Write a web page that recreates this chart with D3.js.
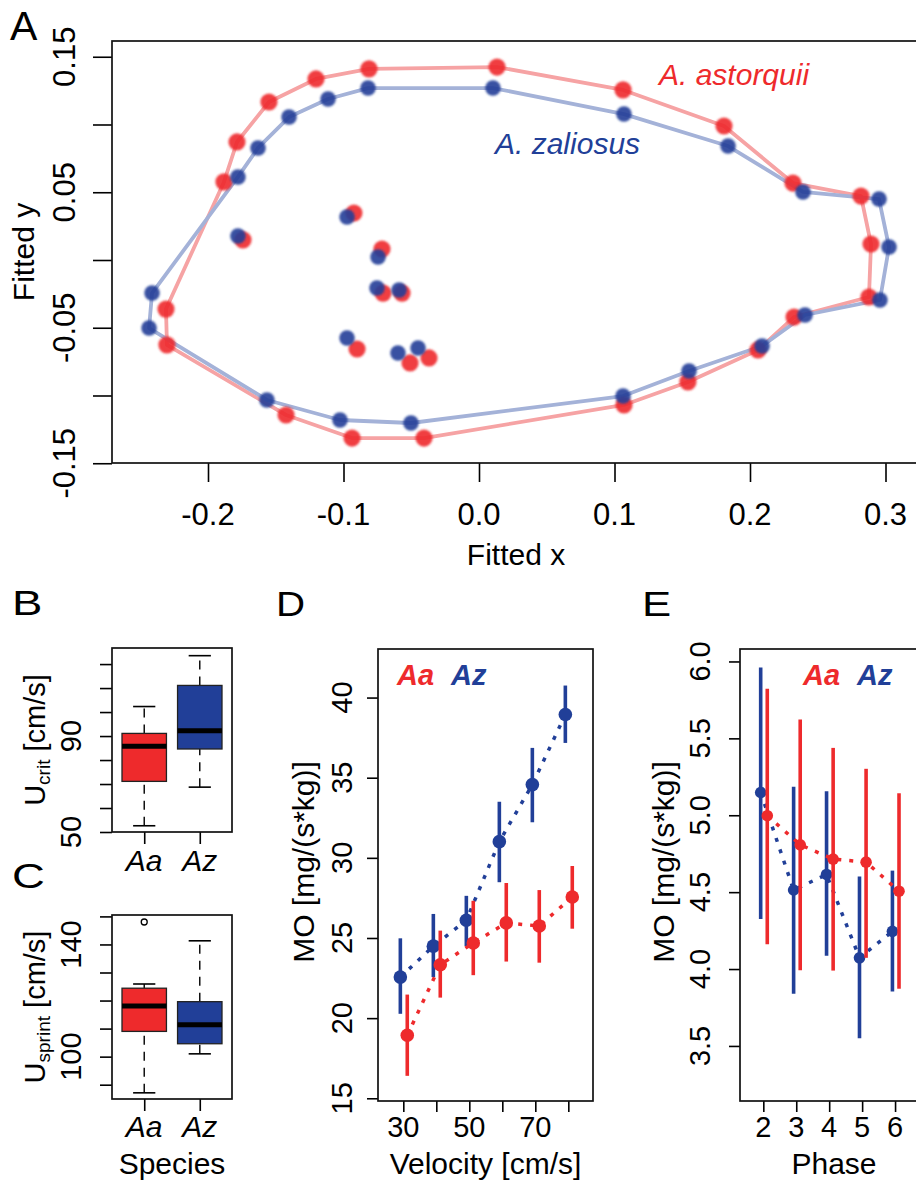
<!DOCTYPE html>
<html><head><meta charset="utf-8">
<script src="https://cdn.jsdelivr.net/npm/d3@7"></script>
<style>body{margin:0;background:#fff;overflow:hidden} svg text{font-family:"Liberation Sans",Arial,Helvetica,sans-serif}</style>
</head><body><svg id="c" width="916" height="1186"></svg>
<script>
// ---------- DATA ----------
// Panel A: Procrustes-fitted landmark coordinates
const shapeTicksX = [-0.2, -0.1, 0.0, 0.1, 0.2, 0.3];
const shapeTickLabelsX = ["-0.2", "-0.1", "0.0", "0.1", "0.2", "0.3"];
const shapeTicksY = [0.15, 0.10, 0.05, 0.00, -0.05, -0.10, -0.15];
const shapeTickLabelsY = ["0.15", "", "0.05", "", "-0.05", "", "-0.15"];
const astorquiiOutlineX = [0.0133, 0.1063, 0.1808, 0.2317, 0.2819, 0.2893, 0.2878, 0.2325, 0.2059, 0.1542, 0.1070, -0.0406, -0.0937, -0.1424, -0.2303, -0.2310, -0.1882, -0.1786, -0.1550, -0.1203, -0.0812];
const astorquiiOutlineY = [0.1424, 0.1255, 0.0989, 0.0568, 0.0472, 0.0118, -0.0273, -0.0421, -0.0664, -0.0900, -0.1070, -0.1314, -0.1314, -0.1144, -0.0627, -0.0362, 0.0576, 0.0871, 0.1166, 0.1336, 0.1410];
const zaliosusOutlineX = [0.0103, 0.1070, 0.1838, 0.2391, 0.2952, 0.3026, 0.2959, 0.2406, 0.2089, 0.1550, 0.1063, -0.0502, -0.1026, -0.1565, -0.2435, -0.2413, -0.1779, -0.1631, -0.1402, -0.1114, -0.0819];
const zaliosusOutlineY = [0.1269, 0.1077, 0.0841, 0.0502, 0.0450, 0.0096, -0.0295, -0.0406, -0.0635, -0.0819, -0.1004, -0.1203, -0.1181, -0.1033, -0.0502, -0.0244, 0.0613, 0.0827, 0.1055, 0.1188, 0.1269];
const astorquiiInnerX = [-0.0923, -0.1742, -0.0716, -0.0708, -0.0568, -0.0900, -0.0509, -0.0369];
const astorquiiInnerY = [0.0347, 0.0148, 0.0081, -0.0244, -0.0244, -0.0657, -0.0760, -0.0723];
const zaliosusInnerX = [-0.0974, -0.1779, -0.0745, -0.0753, -0.0590, -0.0974, -0.0598, -0.0450];
const zaliosusInnerY = [0.0317, 0.0177, 0.0022, -0.0207, -0.0221, -0.0576, -0.0686, -0.0649];
const speciesNames = ["A. astorquii", "A. zaliosus"];

// Panels B, C: boxplots (lower whisker, Q1, median, Q3, upper whisker)
const speciesCodes = ["Aa", "Az"];
const ucritTicks = [50, 60, 70, 80, 90, 100, 110, 120];
const ucritTickLabels = ["50", "", "", "", "90", "", "", ""];
const ucritAa = [52.6, 71.1, 85.7, 91.1, 102.3];
const ucritAz = [68.7, 84.6, 92.2, 111.1, 123.5];
const usprintTicks = [90, 100, 110, 120, 130, 140, 150];
const usprintTickLabels = ["", "100", "", "", "", "140", ""];
const usprintAa = [87.1, 109.0, 118.1, 124.4, 125.9];
const usprintAz = [101.0, 104.6, 111.4, 119.6, 141.3];
const usprintOutliersAa = [148.0];
const usprintOutliersAz = [];

// Panel D: MO2 vs velocity (mean, lower, upper)
const velocity = [30, 40, 50, 60, 70, 80];
const velocityTickLabels = ["30", "", "50", "", "70", ""];
const moTicksD = [15, 20, 25, 30, 35, 40];
const moVelAa = [18.93, 23.33, 24.69, 25.94, 25.75, 27.56];
const moVelAaLo = [16.40, 21.28, 22.68, 23.53, 23.46, 25.58];
const moVelAaHi = [21.47, 25.46, 27.32, 28.43, 27.99, 29.49];
const moVelAz = [22.56, 24.49, 26.11, 31.01, 34.57, 38.94];
const moVelAzLo = [20.27, 22.56, 24.49, 28.48, 32.22, 37.17];
const moVelAzHi = [24.98, 26.50, 27.63, 33.50, 36.86, 40.75];

// Panel E: MO2 vs phase
const phase = [2, 3, 4, 5, 6];
const moTicksE = [3.5, 4.0, 4.5, 5.0, 5.5, 6.0];
const moPhaseAa = [4.997, 4.808, 4.715, 4.695, 4.506];
const moPhaseAaLo = [4.162, 3.992, 3.990, 4.073, 3.872];
const moPhaseAaHi = [5.823, 5.622, 5.438, 5.302, 5.143];
const moPhaseAz = [5.148, 4.514, 4.615, 4.073, 4.245];
const moPhaseAzLo = [4.325, 3.839, 4.086, 3.550, 3.854];
const moPhaseAzHi = [5.961, 5.186, 5.156, 4.602, 4.640];

// ---------- STYLE ----------
const RED = "#ee2a2c", BLUE = "#213f98";
const RED_LINE = "#f6a3a4", BLUE_LINE = "#a4b2d8";
const svg = d3.select("#c");
svg.append("rect").attr("width", 916).attr("height", 1186).attr("fill", "#fff");
const defs = svg.append("defs");
defs.append("filter").attr("id", "soft").attr("x", "-50%").attr("y", "-50%").attr("width", "200%").attr("height", "200%")
  .append("feGaussianBlur").attr("stdDeviation", 0.9);

function styleAxis(g) {
  g.select(".domain").remove();
  g.selectAll(".tick line").attr("stroke", "#000").attr("stroke-width", 1.6);
}
function frame(b) {
  svg.append("rect").attr("x", b.l).attr("y", b.t).attr("width", b.r - b.l).attr("height", b.b - b.t)
    .attr("fill", "none").attr("stroke", "#111").attr("stroke-width", 1.7);
}
function vlabel(x, y, txt, size, extra) {
  const t = svg.append("text").attr("transform", `translate(${x},${y}) rotate(-90)`)
    .attr("text-anchor", "middle").attr("font-size", size).attr("fill", "#000").text(txt);
  if (extra) extra(t);
  return t;
}
function hlabel(x, y, txt, size) {
  return svg.append("text").attr("x", x).attr("y", y).attr("text-anchor", "middle")
    .attr("font-size", size).attr("fill", "#000").text(txt);
}
function panelLetter(x, y, txt, size, sx) {
  svg.append("text").attr("transform", `translate(${x},${y}) scale(${sx},1)`)
    .attr("font-size", size).attr("fill", "#000").text(txt);
}

// ---------- PANEL A ----------
const A = {l: 112, t: 41, r: 920, b: 463};
const xA = d3.scaleLinear().domain([-0.27085, 0.32546]).range([A.l, A.r]);
const yA = d3.scaleLinear().domain([-0.14982, 0.16162]).range([A.b, A.t]);
svg.append("g").attr("transform", `translate(0,${A.b})`)
  .call(d3.axisBottom(xA).tickValues(shapeTicksX).tickSize(19).tickSizeOuter(0).tickFormat("")).call(styleAxis);
svg.append("g").attr("transform", `translate(${A.l},0)`)
  .call(d3.axisLeft(yA).tickValues(shapeTicksY).tickSize(19).tickSizeOuter(0).tickFormat("")).call(styleAxis);
shapeTicksX.forEach((v, i) => hlabel(xA(v), 525, shapeTickLabelsX[i], 31));
shapeTicksY.forEach((v, i) => { if (shapeTickLabelsY[i]) vlabel(75, yA(v), shapeTickLabelsY[i], 31); });
hlabel((A.l + A.r) / 2, 565, "Fitted x", 30);
vlabel(34, (A.t + A.b) / 2, "Fitted y", 30);
panelLetter(10, 40, "A", 41, 1);

const lineA = d3.line().x(d => xA(d[0])).y(d => yA(d[1])).curve(d3.curveLinearClosed);
const astOut = d3.zip(astorquiiOutlineX, astorquiiOutlineY);
const zalOut = d3.zip(zaliosusOutlineX, zaliosusOutlineY);
svg.append("path").attr("d", lineA(astOut)).attr("fill", "none").attr("stroke", RED_LINE).attr("stroke-width", 3.8).attr("stroke-linejoin", "round");
svg.append("path").attr("d", lineA(zalOut)).attr("fill", "none").attr("stroke", BLUE_LINE).attr("stroke-width", 3.8).attr("stroke-linejoin", "round");
function dots(pts, col, r) {
  svg.append("g").attr("filter", "url(#soft)").selectAll("circle").data(pts).join("circle")
    .attr("cx", d => xA(d[0])).attr("cy", d => yA(d[1])).attr("r", r).attr("fill", col).attr("fill-opacity", 0.9);
}
dots(astOut.concat(d3.zip(astorquiiInnerX, astorquiiInnerY)), RED, 8.6);
dots(zalOut.concat(d3.zip(zaliosusInnerX, zaliosusInnerY)), BLUE, 7.8);
svg.append("text").attr("x", 659).attr("y", 85).attr("font-size", 30).attr("font-style", "italic").attr("fill", RED).text(speciesNames[0]);
svg.append("text").attr("x", 495).attr("y", 154).attr("font-size", 30).attr("font-style", "italic").attr("fill", BLUE).text(speciesNames[1]);
frame(A);

// ---------- PANELS B, C ----------
function boxPanel(b, dom, ticks, tickLabels, statsList, outliers, sub, xLabelY) {
  const x = d3.scaleLinear().domain([0.42, 2.58]).range([b.l, b.r]);
  const y = d3.scaleLinear().domain(dom).range([b.b, b.t]);
  svg.append("g").attr("transform", `translate(0,${b.b})`)
    .call(d3.axisBottom(x).tickValues([1, 2]).tickSize(12).tickSizeOuter(0).tickFormat("")).call(styleAxis);
  svg.append("g").attr("transform", `translate(${b.l},0)`)
    .call(d3.axisLeft(y).tickValues(ticks).tickSize(12).tickSizeOuter(0).tickFormat("")).call(styleAxis);
  ticks.forEach((v, i) => { if (tickLabels[i]) vlabel(81, y(v), tickLabels[i], 29); });
  const colors = [RED, BLUE];
  statsList.forEach((s, i) => {
    const cx = x(i + 1), hw = x(1.4) - x(1), cw = x(1.2) - x(1);
    const g = svg.append("g");
    g.append("line").attr("x1", cx).attr("x2", cx).attr("y1", y(s[0])).attr("y2", y(s[1])).attr("stroke", "#000").attr("stroke-width", 1.4).attr("stroke-dasharray", "9 7");
    g.append("line").attr("x1", cx).attr("x2", cx).attr("y1", y(s[3])).attr("y2", y(s[4])).attr("stroke", "#000").attr("stroke-width", 1.4).attr("stroke-dasharray", "9 7");
    [s[0], s[4]].forEach(v => g.append("line").attr("x1", cx - cw).attr("x2", cx + cw).attr("y1", y(v)).attr("y2", y(v)).attr("stroke", "#000").attr("stroke-width", 1.6));
    g.append("rect").attr("x", cx - hw).attr("width", 2 * hw).attr("y", y(s[3])).attr("height", y(s[1]) - y(s[3]))
      .attr("fill", colors[i]).attr("stroke", "#222").attr("stroke-width", 1.3);
    g.append("line").attr("x1", cx - hw).attr("x2", cx + hw).attr("y1", y(s[2])).attr("y2", y(s[2])).attr("stroke", "#000").attr("stroke-width", 5);
    (outliers[i] || []).forEach(v => g.append("circle").attr("cx", cx).attr("cy", y(v)).attr("r", 3).attr("fill", "none").attr("stroke", "#000").attr("stroke-width", 1.3));
  });
  speciesCodes.forEach((c, i) => svg.append("text").attr("x", x(i + 1)).attr("y", xLabelY).attr("text-anchor", "middle")
    .attr("font-size", 30).attr("font-style", "italic").text(c));
  vlabel(45, (b.t + b.b) / 2, "", 29, t => {
    t.append("tspan").text("U");
    t.append("tspan").attr("font-size", 19).attr("dy", 5).text(sub);
    t.append("tspan").attr("dy", -5).text(" [cm/s]");
  });
  frame(b);
}
boxPanel({l: 112, t: 648, r: 232, b: 832}, [50, 126.7], ucritTicks, ucritTickLabels, [ucritAa, ucritAz], [[], []], "crit", 871);
boxPanel({l: 112, t: 915, r: 232, b: 1099}, [84.9, 150.5], usprintTicks, usprintTickLabels, [usprintAa, usprintAz], [usprintOutliersAa, usprintOutliersAz], "sprint", 1137);
hlabel(172, 1174, "Species", 30);
panelLetter(12, 615, "B", 35, 1.3);
panelLetter(12, 888, "C", 35, 1.3);

// ---------- PANELS D, E ----------
function mePanel(b, xdom, ydom, xt, xtl, yt, ytl, series, off, r, legendX, xTitle, ylabX, ytlX) {
  const x = d3.scaleLinear().domain(xdom).range([b.l, b.r]);
  const y = d3.scaleLinear().domain(ydom).range([b.b, b.t]);
  svg.append("g").attr("transform", `translate(0,${b.b})`)
    .call(d3.axisBottom(x).tickValues(xt).tickSize(11).tickSizeOuter(0).tickFormat("")).call(styleAxis);
  svg.append("g").attr("transform", `translate(${b.l},0)`)
    .call(d3.axisLeft(y).tickValues(yt).tickSize(11).tickSizeOuter(0).tickFormat("")).call(styleAxis);
  xt.forEach((v, i) => { if (xtl[i]) hlabel(x(v), 1137, xtl[i], 29); });
  yt.forEach((v, i) => vlabel(ytlX, y(v), ytl[i], 29));
  hlabel((b.l + b.r) / 2, 1174, xTitle, 30);
  vlabel(ylabX, 862, "MO [mg/(s*kg)]", 30);
  const line = d3.line().x(d => x(d[0])).y(d => y(d[1]));
  series.forEach((s, k) => {
    const pts = xt.map((v, i) => [v + off[k], s.m[i], s.lo[i], s.hi[i]]);
    const g = svg.append("g");
    g.append("path").attr("d", line(pts)).attr("fill", "none").attr("stroke", s.c).attr("stroke-width", 3.5).attr("stroke-dasharray", "4 8");
    g.selectAll("line").data(pts).join("line").attr("x1", d => x(d[0])).attr("x2", d => x(d[0]))
      .attr("y1", d => y(d[2])).attr("y2", d => y(d[3])).attr("stroke", s.c).attr("stroke-width", 3.6);
    g.selectAll("circle").data(pts).join("circle").attr("cx", d => x(d[0])).attr("cy", d => y(d[1])).attr("r", r).attr("fill", s.c);
  });
  svg.append("text").attr("x", legendX[0]).attr("y", 685).attr("font-size", 29).attr("font-weight", "bold").attr("font-style", "italic").attr("fill", RED).text(speciesCodes[0]);
  svg.append("text").attr("x", legendX[1]).attr("y", 685).attr("font-size", 29).attr("font-weight", "bold").attr("font-style", "italic").attr("fill", BLUE).text(speciesCodes[1]);
  frame(b);
}
mePanel({l: 378, t: 649, r: 593, b: 1101}, [22.33, 87.48], [14.83, 43.03], velocity, velocityTickLabels,
  moTicksD, moTicksD.map(String),
  [{m: moVelAz, lo: moVelAzLo, hi: moVelAzHi, c: BLUE}, {m: moVelAa, lo: moVelAaLo, hi: moVelAaHi, c: RED}],
  [-0.9, 1.2], 6.8, [397, 451], "Velocity [cm/s]", 314, 352);
mePanel({l: 740, t: 649, r: 928, b: 1101}, [1.292, 7.0], [3.142, 6.081], phase, phase.map(String),
  moTicksE, moTicksE.map(d => d.toFixed(1)),
  [{m: moPhaseAz, lo: moPhaseAzLo, hi: moPhaseAzHi, c: BLUE}, {m: moPhaseAa, lo: moPhaseAaLo, hi: moPhaseAaHi, c: RED}],
  [-0.08, 0.12], 5.8, [803, 857], "Phase", 674, 710);
panelLetter(276, 616, "D", 35, 1.15);
panelLetter(642, 616, "E", 35, 1.25);
</script></body></html>
